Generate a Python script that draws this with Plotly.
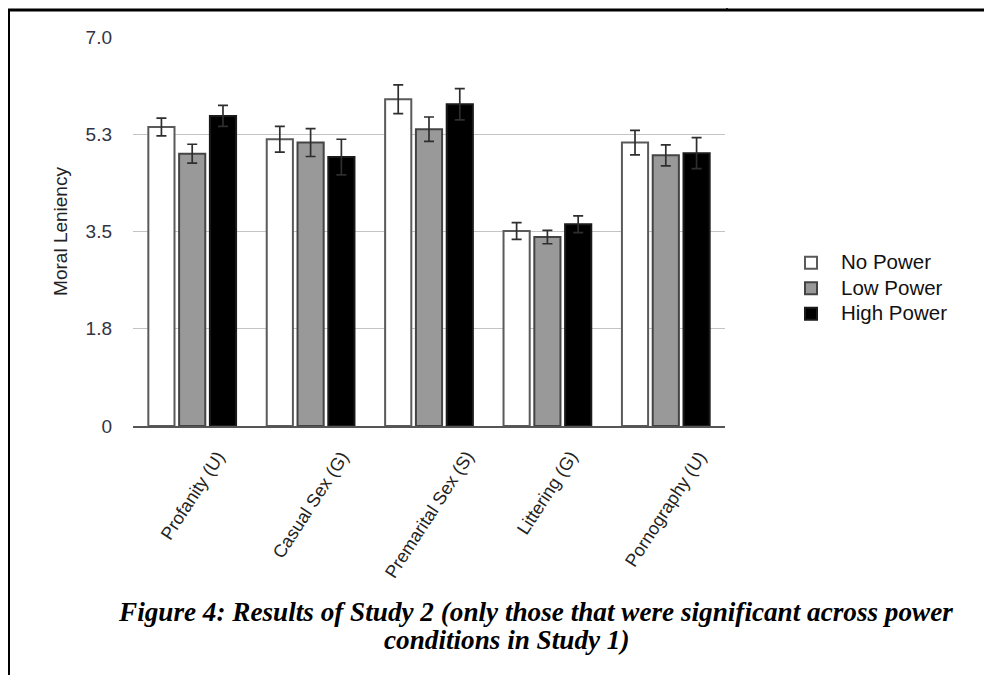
import plotly.graph_objects as go

categories = ["Profanity (U)", "Casual Sex (G)", "Premarital Sex (S)", "Littering (G)", "Pornography (U)"]
series_names = ["No Power", "Low Power", "High Power"]
no_power = [5.38, 5.16, 5.88, 3.51, 5.10]
no_power_err = [0.16, 0.23, 0.26, 0.15, 0.22]
low_power = [4.90, 5.10, 5.34, 3.40, 4.87]
low_power_err = [0.17, 0.25, 0.22, 0.12, 0.19]
high_power = [5.58, 4.84, 5.79, 3.63, 4.91]
high_power_err = [0.19, 0.32, 0.28, 0.15, 0.28]
tick_vals = [0, 1.75, 3.5, 5.25, 7.0]
tick_text = ["0", "1.8", "3.5", "5.3", "7.0"]
y_title = "Moral Leniency"
caption_line1 = "Figure 4: Results of Study 2 (only those that were significant across power"
caption_line2 = "conditions in Study 1)"

OFF = 8  # page body margin
W, H = 992 - OFF, 675 - OFF
L, R, T, B = 133 - OFF, 725 - OFF, 37 - OFF, 426 - OFF  # plot area in figure pixels


def px(xp):
    # xp: screen pixel in reference
    return (xp - OFF - L) / (R - L)


def py(yp):
    return (B - (yp - OFF)) / (B - T)


fills = ["#ffffff", "#999999", "#000000"]
outlines = ["#5a5a5a", "#444444", "#1a1a1a"]
values = [no_power, low_power, high_power]
errs = [no_power_err, low_power_err, high_power_err]

fig = go.Figure()
for name, v, e, fc, lc in zip(series_names, values, errs, fills, outlines):
    fig.add_trace(go.Bar(
        x=categories, y=v,
        name="<span style='font-size:20.5px'>" + name + "</span>",
        marker=dict(color=fc, line=dict(color=lc, width=2)),
        error_y=dict(type="data", array=e, color="#2e2e2e", thickness=1.7, width=5),
    ))

annotations = []
for c in categories:
    annotations.append(dict(
        x=c, y=0, xref="x", yref="y", text=c, showarrow=False,
        textangle=-57, xanchor="center", yanchor="top", yshift=-19,
        font=dict(family="Liberation Sans", size=18, color="#222222"),
    ))

annotations.append(dict(
    x=px(535), y=py(612), xref="paper", yref="paper", showarrow=False,
    text="<b><i>" + caption_line1 + "</i></b>", xanchor="center", yanchor="middle",
    font=dict(family="Liberation Serif", size=27.2, color="#000000"),
))
annotations.append(dict(
    x=px(507), y=py(640), xref="paper", yref="paper", showarrow=False,
    text="<b><i>" + caption_line2 + "</i></b>", xanchor="center", yanchor="middle",
    font=dict(family="Liberation Serif", size=27.2, color="#000000"),
))

shapes = [
    dict(type="line", xref="paper", yref="paper", x0=px(8.5), x1=px(8.5), y0=py(9), y1=py(690),
         line=dict(color="#000000", width=3)),
    dict(type="line", xref="paper", yref="paper", x0=px(7), x1=px(1010), y0=py(10), y1=py(10),
         line=dict(color="#000000", width=3)),
    dict(type="line", xref="paper", yref="paper", x0=px(727), x1=px(727), y0=py(-10), y1=py(10),
         line=dict(color="#000000", width=1.5)),
]

fig.update_layout(
    width=W, height=H,
    margin=dict(l=L, r=W - R, t=T, b=H - B),
    paper_bgcolor="#ffffff", plot_bgcolor="#ffffff",
    barmode="group", bargap=0.22, bargroupgap=0.15,
    font=dict(family="Liberation Sans", size=18, color="#333333"),
    showlegend=True,
    legend=dict(x=px(781), y=py(245), xanchor="left", yanchor="top",
                font=dict(family="Liberation Sans", size=17.3, color="#111111"),
                bgcolor="rgba(0,0,0,0)", tracegroupgap=0, itemwidth=50),
    annotations=annotations,
    shapes=shapes,
)
fig.update_xaxes(showticklabels=False, ticks="", showgrid=False, showline=True,
                 linecolor="#555555", linewidth=2, zeroline=False)
fig.update_yaxes(range=[0, 7], tickvals=tick_vals, ticktext=tick_text, ticks="",
                 showgrid=True, gridcolor="#c4c4c4", gridwidth=1, zeroline=False,
                 showline=False, ticklabelstandoff=20,
                 tickfont=dict(family="Liberation Sans", size=19, color="#333344"),
                 title=dict(text=y_title, standoff=12,
                            font=dict(family="Liberation Sans", size=19, color="#222222")))

fig.write_html("out.html")
